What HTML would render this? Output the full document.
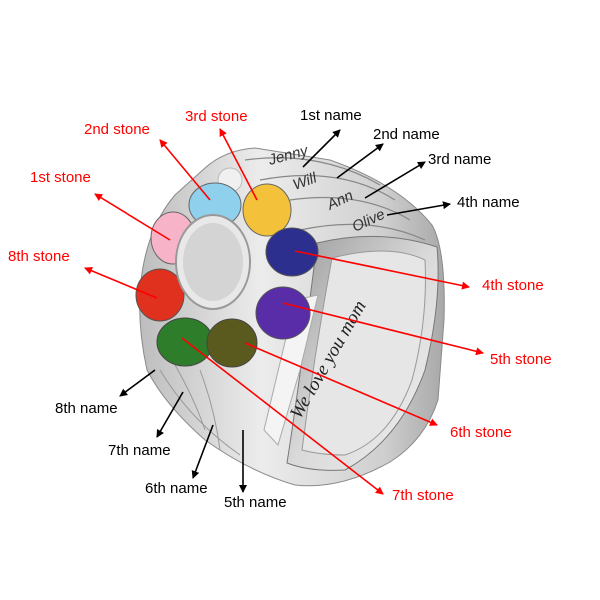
<!DOCTYPE html>
<html><head><style>
html,body{margin:0;padding:0;background:#fff;width:600px;height:600px;overflow:hidden}
svg{display:block}
text{font-family:"Liberation Sans",sans-serif;font-size:15px}
.r{fill:#f00}.k{fill:#000}
</style></head><body>
<svg width="600" height="600" viewBox="0 0 600 600" xmlns="http://www.w3.org/2000/svg">
<defs>
<linearGradient id="band" x1="0" y1="0" x2="1" y2="0">
<stop offset="0" stop-color="#bdbdbd"/><stop offset="0.4" stop-color="#ececec"/><stop offset="0.8" stop-color="#cfcfcf"/><stop offset="1" stop-color="#a8a8a8"/>
</linearGradient>
<linearGradient id="inner" x1="0" y1="0" x2="1" y2="1">
<stop offset="0" stop-color="#9a9a9a"/><stop offset="0.5" stop-color="#d9d9d9"/><stop offset="1" stop-color="#f2f2f2"/>
</linearGradient>
<marker id="ar" markerWidth="8" markerHeight="8" refX="7" refY="4" orient="auto" markerUnits="userSpaceOnUse" viewBox="0 0 8 8"><path d="M0,0 L8,4 L0,8z" fill="#f00"/></marker>
<marker id="ak" markerWidth="8" markerHeight="8" refX="7" refY="4" orient="auto" markerUnits="userSpaceOnUse" viewBox="0 0 8 8"><path d="M0,0 L8,4 L0,8z" fill="#000"/></marker>
</defs>
<!-- ring body -->
<path d="M205,168 Q225,150 255,148 L330,160 Q400,185 432,225 Q446,250 444,320 L438,400 Q425,440 390,462 Q340,490 295,485 Q250,472 205,440 Q165,405 147,370 Q138,330 140,290 Q145,230 175,195 Z" fill="url(#band)" stroke="#8a8a8a" stroke-width="1"/>
<!-- bands lines -->
<path d="M245,160 Q320,150 380,185" fill="none" stroke="#888" stroke-width="1.2"/>
<path d="M260,180 Q340,165 395,200" fill="none" stroke="#888" stroke-width="1.2"/>
<path d="M290,200 Q360,190 410,220" fill="none" stroke="#888" stroke-width="1.2"/>
<path d="M300,230 Q370,215 425,240" fill="none" stroke="#888" stroke-width="1.2"/>
<path d="M160,370 Q190,420 240,455" fill="none" stroke="#999"/>
<path d="M175,365 Q195,400 205,430" fill="none" stroke="#999"/>
<path d="M200,370 Q215,410 220,450" fill="none" stroke="#999"/>
<!-- inner hole -->
<path d="M317,243 Q380,228 437,247 Q442,300 425,370 Q400,440 345,470 Q310,472 287,463 Q300,380 317,243 Z" fill="url(#inner)" stroke="#777"/>
<path d="M332,258 Q390,243 425,260 Q428,320 412,380 Q390,440 345,455 Q320,455 302,450 Q315,350 332,258 Z" fill="#e6e6e6" stroke="#999"/>
<text x="300" y="420" transform="rotate(-60 300 420)" style="font-family:'Liberation Serif',serif;font-style:italic;font-size:19px" fill="#222">We love you mom</text>
<!-- small diamond strip -->
<path d="M295,300 L318,295 L300,370 L278,445 L264,430 Z" fill="#f4f4f4" stroke="#aaa"/>
<!-- engraved names -->
<g style="font-family:'Liberation Serif',serif;font-style:italic;font-size:13px" fill="#333">
<text x="270" y="165" transform="rotate(-15 270 165)">Jenny</text>
<text x="295" y="190" transform="rotate(-20 295 190)">Will</text>
<text x="330" y="210" transform="rotate(-25 330 210)">Ann</text>
<text x="355" y="232" transform="rotate(-25 355 232)">Olive</text>
</g>
<!-- stones -->
<circle cx="230" cy="180" r="12" fill="#f0f0f0" stroke="#bbb"/>
<ellipse cx="215" cy="205" rx="26" ry="22" fill="#8fd0ec" stroke="#666"/>
<ellipse cx="267" cy="210" rx="24" ry="26" fill="#f4c13a" stroke="#666"/>
<ellipse cx="173" cy="238" rx="22" ry="26" fill="#f7b3c8" stroke="#666"/>
<ellipse cx="292" cy="252" rx="26" ry="24" fill="#2c2f8e" stroke="#555"/>
<ellipse cx="160" cy="295" rx="24" ry="26" fill="#e0301e" stroke="#555"/>
<ellipse cx="283" cy="313" rx="27" ry="26" fill="#5a2da8" stroke="#555"/>
<ellipse cx="185" cy="342" rx="28" ry="24" fill="#2e7d2a" stroke="#444"/>
<ellipse cx="232" cy="343" rx="25" ry="24" fill="#5b5a1e" stroke="#444"/>
<ellipse cx="213" cy="262" rx="37" ry="47" fill="#e8e8e8" stroke="#999" stroke-width="2"/>
<ellipse cx="213" cy="262" rx="30" ry="39" fill="#d4d4d4"/>
<!-- red arrows -->
<g stroke="#f00" stroke-width="1.6" fill="none" marker-end="url(#ar)">
<line x1="257" y1="200" x2="220" y2="129"/>
<line x1="210" y1="200" x2="160" y2="140"/>
<line x1="170" y1="240" x2="95" y2="194"/>
<line x1="157" y1="298" x2="85" y2="268"/>
<line x1="295" y1="251" x2="469" y2="287"/>
<line x1="283" y1="303" x2="483" y2="353"/>
<line x1="245" y1="343" x2="437" y2="425"/>
<line x1="182" y1="338" x2="383" y2="494"/>
</g>
<!-- black arrows -->
<g stroke="#000" stroke-width="1.6" fill="none" marker-end="url(#ak)">
<line x1="303" y1="167" x2="340" y2="130"/>
<line x1="337" y1="178" x2="383" y2="144"/>
<line x1="365" y1="198" x2="425" y2="162"/>
<line x1="387" y1="215" x2="450" y2="204"/>
<line x1="155" y1="370" x2="120" y2="396"/>
<line x1="183" y1="392" x2="157" y2="437"/>
<line x1="213" y1="425" x2="193" y2="478"/>
<line x1="243" y1="430" x2="243" y2="492"/>
</g>
<!-- labels -->
<text class="r" x="185" y="121">3rd stone</text>
<text class="r" x="84" y="134">2nd stone</text>
<text class="r" x="30" y="182">1st stone</text>
<text class="r" x="8" y="261">8th stone</text>
<text class="r" x="482" y="290">4th stone</text>
<text class="r" x="490" y="364">5th stone</text>
<text class="r" x="450" y="437">6th stone</text>
<text class="r" x="392" y="500">7th stone</text>
<text class="k" x="300" y="120">1st name</text>
<text class="k" x="373" y="139">2nd name</text>
<text class="k" x="428" y="164">3rd name</text>
<text class="k" x="457" y="207">4th name</text>
<text class="k" x="55" y="413">8th name</text>
<text class="k" x="108" y="455">7th name</text>
<text class="k" x="145" y="493">6th name</text>
<text class="k" x="224" y="507">5th name</text>
</svg>
</body></html>
